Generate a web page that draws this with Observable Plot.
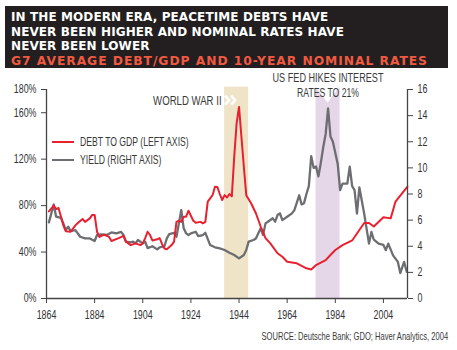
<!DOCTYPE html>
<html>
<head>
<meta charset="utf-8">
<script src="https://cdn.jsdelivr.net/npm/d3@7"></script>
<script src="https://cdn.jsdelivr.net/npm/@observablehq/plot@0.6"></script>
<style>
  html, body { margin: 0; padding: 0; background: #fff; }
  #wrap { position: relative; width: 457px; height: 350px; overflow: hidden; font-family: "Liberation Sans", Arial, sans-serif; }
  #title { position: absolute; left: 5px; top: 6px; width: 443px; height: 62px; background: #231f20; box-sizing: border-box; padding: 4px 0 0 6px; font-family: "DejaVu Sans", sans-serif; font-weight: bold; font-size: 12px; line-height: 14.5px; letter-spacing: 0.1px; color: #fff; white-space: nowrap; }
  #title .sub { color: #f15a40; font-size: 12.3px; letter-spacing: 0.95px; }
  #chart { position: absolute; left: 0; top: 70px; }
  .lab { position: absolute; color: #3a3a3a; font-size: 12px; white-space: nowrap; line-height: 1; }
  .lab span { display: inline-block; transform: scaleX(0.72); }
  .sw { position: absolute; height: 2px; width: 22px; }
</style>
</head>
<body>
<div id="wrap">
  <div id="title">IN THE MODERN ERA, PEACETIME DEBTS HAVE<br>NEVER BEEN HIGHER AND NOMINAL RATES HAVE<br>NEVER BEEN LOWER<br><span class="sub">G7 AVERAGE DEBT/GDP AND 10-YEAR NOMINAL RATES</span></div>
  <div id="chart"></div>
  <div class="sw" style="left:52px; top:141px; background:#e8202f;"></div>
  <div class="lab" style="left:80px; top:136px;"><span style="transform-origin:left center">DEBT TO GDP (LEFT AXIS)</span></div>
  <div class="sw" style="left:52px; top:159px; background:#6d6e71;"></div>
  <div class="lab" style="left:80px; top:154px;"><span style="transform-origin:left center">YIELD (RIGHT AXIS)</span></div>
  <div class="lab" style="right:235px; top:95px;"><span style="transform-origin:right center; transform:scaleX(0.8)">WORLD WAR II</span></div>
  <div class="lab" style="left:228px; width:200px; text-align:center; top:72px;"><span style="transform-origin:center center; transform:scaleX(0.76)">US FED HIKES INTEREST</span></div>
  <div class="lab" style="left:228px; width:200px; text-align:center; top:87px;"><span style="transform-origin:center center">RATES TO 21%</span></div>
  <div class="lab" style="right:9px; top:331px; font-size:10.5px;"><span style="transform-origin:right center">SOURCE: Deutsche Bank; GDO; Haver Analytics, 2004</span></div>
</div>
<script>
// Debt to GDP (%), left axis
const debtYears = [1865,1867,1868,1869,1871,1872,1874,1876,1877,1879,1880,1882,1883,1884,1885,1886,1888,1890,1891,1894,1896,1897,1899,1901,1903,1904,1905,1906,1907,1908,1910,1911,1912,1913,1914,1916,1917,1918,1919,1920,1921,1922,1923,1925,1926,1928,1929,1930,1931,1933,1934,1935,1936,1937,1938,1939,1940,1941,1942,1943,1944,1945,1946,1947,1949,1951,1953,1955,1957,1960,1962,1964,1968,1972,1974,1976,1980,1982,1984,1987,1991,1994,1996,1998,2000,2004,2007,2009,2014];
const debtValues = [75,80,77,78,63,58,57.5,63,65,68.5,66,69,72,72,57.5,53,55,53,49.5,52,54,49,46,47.5,46,47.5,52,57.5,54.7,50,51,52,47,43,42.4,46,49,66,67,66,70.5,70.5,75.6,67,65.3,66,64.8,66,83.4,89,96.3,96,90,84.8,89,87,90,88,122,151,165,139,113.5,89,82,73.4,62,52,47.5,39,36,31.7,30.3,26,25,28.8,33,37.5,41.8,46,50,59,65,65,62,70,69,83.4,96.3];
// 10-year nominal yield (%), right axis
const yieldYears = [1865,1867,1868,1870,1871,1872,1873,1874,1876,1878,1880,1882,1884,1885,1887,1889,1891,1893,1895,1896,1897,1899,1900,1901,1902,1904,1905,1906,1908,1910,1911,1913,1914,1915,1917,1918,1919,1920,1921,1922,1923,1924,1926,1927,1929,1930,1932,1934,1936,1938,1940,1942,1944,1946,1947,1948,1950,1951,1953,1954,1955,1956,1958,1959,1960,1961,1962,1964,1966,1967,1969,1970,1971,1972,1973,1974,1975,1976,1977,1978,1979,1980,1981,1982,1983,1985,1986,1987,1989,1990,1991,1992,1993,1994,1995,1996,1998,1999,2000,2002,2004,2005,2006,2008,2010,2011,2012.6,2013.7];
const yieldValues = [5.83,7.2,6.26,6.18,5.75,5.24,5.5,5.16,5.24,4.73,4.6,4.6,4.4,4.86,4.9,4.86,5.06,4.98,5.1,4.86,4.35,4.3,4.35,4.22,4.48,4.22,4.35,3.86,4.0,3.76,3.92,4.0,4.6,4.93,5.03,4.73,5.75,6.77,5.37,4.99,4.86,4.99,5.11,4.78,4.86,5.03,4.09,3.92,3.84,3.71,3.5,3.33,3.07,3.33,3.71,4.35,4.48,4.6,5.37,4.86,5.75,5.88,6.14,5.88,6.39,6.52,6.0,6.26,6.52,6.77,7.9,7.2,7.3,8.0,8.6,10.9,10.0,10.1,9.35,10.4,11.6,12.6,14.55,12.4,12.0,10.3,8.3,8.8,8.8,10.1,8.6,8.3,6.5,8.5,7.5,6.5,4.2,5.1,4.5,4.2,4.1,3.7,4.2,3.3,2.8,1.95,2.8,2.05];
// Shaded periods
const bandNames = ["World War II", "US Fed hikes"];
const bandStart = [1938, 1976];
const bandEnd = [1948, 1986];
const bandColors = ["#efe4c8", "#e6d7e8"];
// Axis ticks
const leftTicks = [0, 40, 80, 120, 160, 180];
const rightTicks = [0, 2, 4, 6, 8, 10, 12, 14, 16];
const xTicks = [1864, 1884, 1904, 1924, 1944, 1964, 1984, 2004];

const debt = debtYears.map((y, i) => ({year: y, value: debtValues[i]}));
const yld = yieldYears.map((y, i) => ({year: y, value: yieldValues[i]}));
const bands = bandNames.map((n, i) => ({name: n, start: bandStart[i], end: bandEnd[i], color: bandColors[i]}));
const k = 180 / 16; // right axis (0–16) onto left axis (0–180%)

const notch = (index, scales) => {
  const ns = "http://www.w3.org/2000/svg";
  const g = document.createElementNS(ns, "g");
  const fed = bands[1];
  const x1 = scales.x(fed.start), x2 = scales.x(fed.end), top = scales.y(182);
  const p = document.createElementNS(ns, "path");
  p.setAttribute("d", `M${x1 - 0.5},${top - 1}L${x2 + 0.5},${top - 1}L${(x1 + x2) / 2},${top + 16}Z`);
  p.setAttribute("fill", "#fff");
  g.appendChild(p);
  const ww = bands[0];
  const wx = scales.x(ww.start), wy = scales.y(182) + 13.5;
  for (const dx of [0, 6]) {
    const c = document.createElementNS(ns, "path");
    c.setAttribute("d", `M${wx + dx + 1},${wy - 4.5}L${wx + dx + 5},${wy}L${wx + dx + 1},${wy + 4.5}`);
    c.setAttribute("fill", "none");
    c.setAttribute("stroke", "#fff");
    c.setAttribute("stroke-width", 2.6);
    g.appendChild(c);
  }
  return g;
};

const chart = Plot.plot({
  width: 457,
  height: 280,
  marginTop: 19,
  marginBottom: 52,
  marginLeft: 46,
  marginRight: 50,
  style: {fontFamily: '"Liberation Sans", Arial, sans-serif', fontSize: "12px", color: "#333", background: "transparent"},
  x: {domain: [1864, 2014]},
  y: {domain: [0, 180]},
  marks: [
    Plot.rect(bands, {x1: "start", x2: "end", y1: 0, y2: 182, fill: "color"}),
    notch,
    Plot.line(yld, {x: "year", y: d => d.value * k, stroke: "#6d6e71", strokeWidth: 2.3, curve: "linear"}),
    Plot.line(debt, {x: "year", y: "value", stroke: "#e8202f", strokeWidth: 2, curve: "linear"}),
    Plot.ruleX([1864, 2014], {stroke: "#444", strokeWidth: 1.3}),
    Plot.ruleY([0], {stroke: "#444", strokeWidth: 1.3}),
    Plot.axisY(leftTicks, {anchor: "left", label: null, tickSize: 5, tickPadding: 5, tickFormat: d => d + "%", stroke: "#444"}),
    Plot.axisY(rightTicks, {anchor: "right", label: null, y: d => d * k, tickSize: 5, tickPadding: 5, tickFormat: d => String(d), stroke: "#444"}),
    Plot.axisX(xTicks, {label: null, tickSize: 5, tickPadding: 7, tickFormat: d => String(d), stroke: "#444"})
  ]
});
// condense tick label glyphs horizontally (the reference uses a condensed face)
chart.querySelectorAll('g[aria-label$="tick label"] text').forEach(t => {
  const tr = t.getAttribute("transform") || "";
  t.setAttribute("transform", tr + " scale(0.74,1)");
});
document.getElementById("chart").appendChild(chart);
</script>
</body>
</html>
